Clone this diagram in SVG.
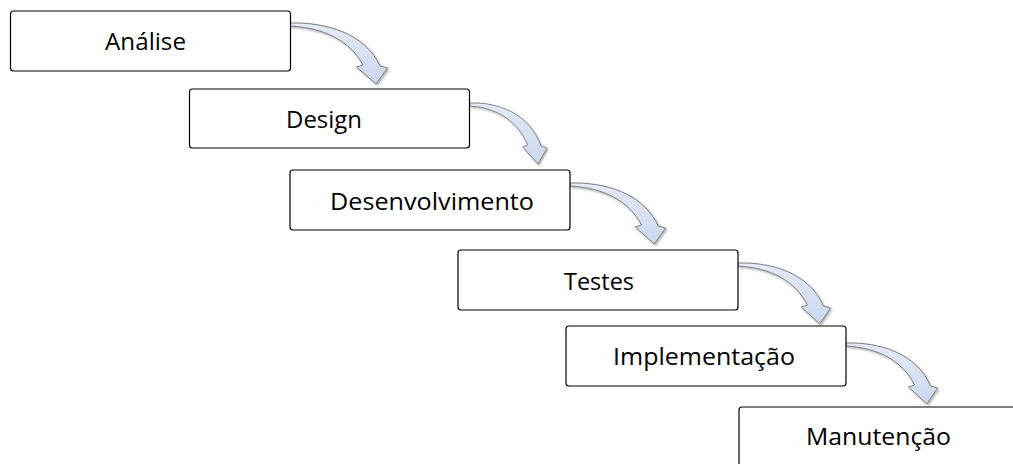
<svg xmlns="http://www.w3.org/2000/svg" width="1013" height="464" viewBox="0 0 1013 464">
  <style>
    .box { fill: #ffffff; stroke: #000000; stroke-width: 1.2; }
    .lbl { font-family: "Open Sans", "Liberation Sans", sans-serif; font-size: 23.5px; fill: #000000; }
    .arr { fill: url(#ag); stroke: #7a7a7a; stroke-width: 1; stroke-linejoin: miter; filter: url(#sh); }
  </style>
  <defs>
    <linearGradient id="ag" x1="0" y1="0" x2="0" y2="1">
      <stop offset="0" stop-color="#e4eaf6"/>
      <stop offset="1" stop-color="#cbd7ee"/>
    </linearGradient>
    <filter id="sh" x="-20%" y="-20%" width="150%" height="150%">
      <feDropShadow dx="1.5" dy="1.5" stdDeviation="1" flood-color="#000" flood-opacity="0.3"/>
    </filter>
    <path id="curve" d="M0,0 C35,-1 75,10 90,43 L97.5,45 L86,61 L66.5,44 L73,42 C60,18 35,5 0,3 Z"/>
  </defs>

  <g id="connectors">
    <use href="#curve" class="arr" transform="translate(290,23)"/>
    <use href="#curve" class="arr" transform="translate(470,103) scale(0.79,1)"/>
    <use href="#curve" class="arr" transform="translate(570,183) scale(0.98,1)"/>
    <use href="#curve" class="arr" transform="translate(738,263) scale(0.95,1)"/>
    <use href="#curve" class="arr" transform="translate(846,343) scale(0.94,1)"/>
  </g>

  <g id="analise">
    <rect class="box" x="10.5" y="11" width="280" height="60" rx="3"/>
    <text class="lbl" x="105" y="50" textLength="81" lengthAdjust="spacingAndGlyphs">Análise</text>
  </g>
  <g id="design">
    <rect class="box" x="189.5" y="89" width="280" height="59" rx="3"/>
    <text class="lbl" x="286" y="128" textLength="76" lengthAdjust="spacingAndGlyphs">Design</text>
  </g>
  <g id="desenvolvimento">
    <rect class="box" x="290" y="170" width="280" height="60" rx="3"/>
    <text class="lbl" x="330" y="210" textLength="204" lengthAdjust="spacingAndGlyphs">Desenvolvimento</text>
  </g>
  <g id="testes">
    <rect class="box" x="458" y="250" width="280" height="60" rx="3"/>
    <text class="lbl" x="564" y="290" textLength="70" lengthAdjust="spacingAndGlyphs">Testes</text>
  </g>
  <g id="implementacao">
    <rect class="box" x="566" y="326" width="280" height="60" rx="3"/>
    <text class="lbl" x="613" y="365" textLength="182" lengthAdjust="spacingAndGlyphs">Implementação</text>
  </g>
  <g id="manutencao">
    <rect class="box" x="739" y="407" width="280" height="60" rx="3"/>
    <text class="lbl" x="806" y="445" textLength="145" lengthAdjust="spacingAndGlyphs">Manutenção</text>
  </g>
</svg>
